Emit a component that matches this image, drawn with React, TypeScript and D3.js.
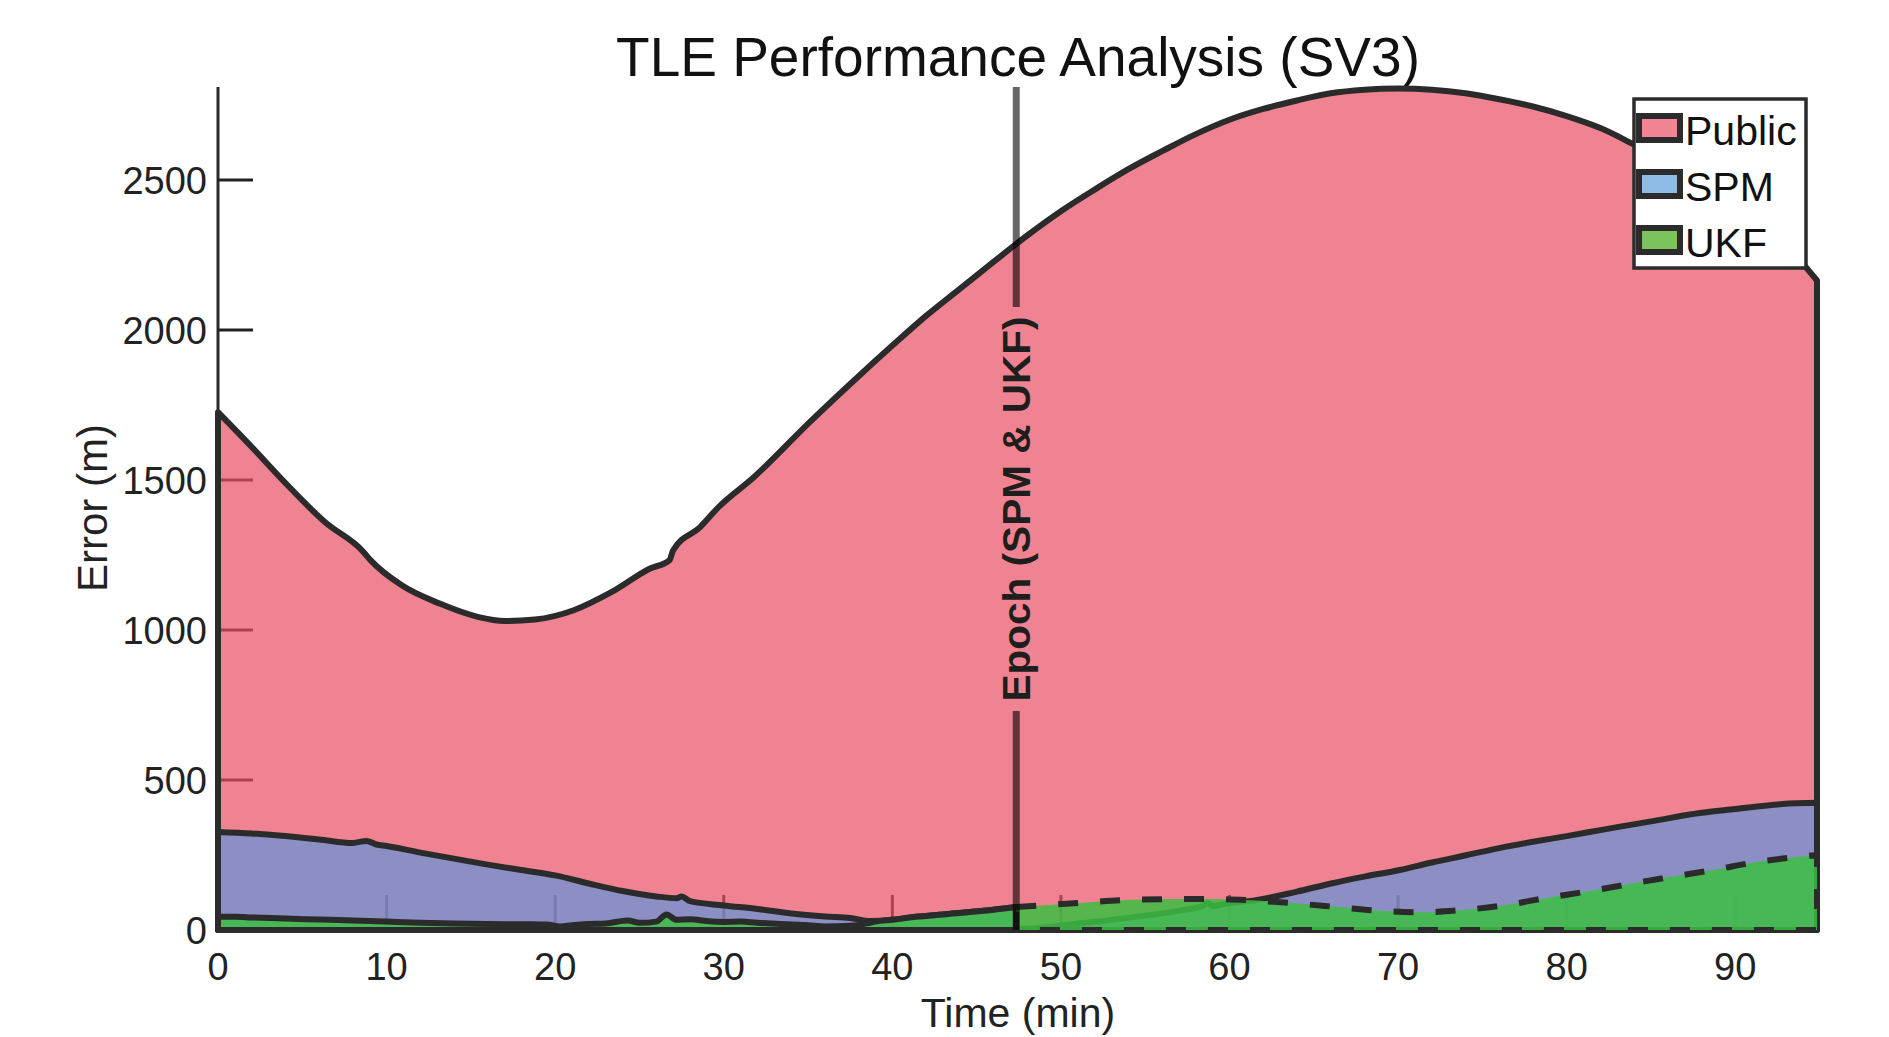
import React from 'react';
import * as d3 from 'd3';

// ---------- data ----------
const X_TICKS = [0, 10, 20, 30, 40, 50, 60, 70, 80, 90];
const Y_TICKS = [0, 500, 1000, 1500, 2000, 2500];
const T_END = 94.85;
const EPOCH_T = 47.35;

const PUBLIC_T = [0, 2, 4, 6.34, 8.6, 9.06, 10.9, 13.15, 15.4, 17, 18.8, 21.1, 23.36, 25.63, 26.77, 27.0, 28.6, 29.7, 31.8, 35.1, 38, 40, 42, 44, 46, 48, 50, 52, 54, 56, 58, 60, 62, 64, 66, 68, 70, 72, 74, 76, 78, 80, 82, 84, 86, 88, 90, 92, 94, 94.85];
const PUBLIC_V = [1726, 1610, 1490, 1360, 1262, 1232, 1149, 1088, 1044, 1030, 1035, 1066, 1127, 1205, 1232, 1266, 1343, 1410, 1510, 1693, 1846, 1948, 2047, 2137, 2227, 2315, 2396, 2468, 2536, 2596, 2653, 2701, 2737, 2765, 2789, 2801, 2805, 2801, 2789, 2769, 2745, 2713, 2673, 2618, 2560, 2492, 2415, 2328, 2222, 2165];

const SPM_PRE_T = [0, 2, 4, 6, 8, 8.8, 9.4, 10, 12, 14, 16, 18, 20, 22, 24, 26, 27.2, 27.5, 28, 30, 32, 34, 36, 37.5, 38.7, 40, 41.4, 43, 45.4, 47.35];
const SPM_PRE_V = [327, 322, 313, 302, 290, 297, 285, 280, 258, 238, 218, 200, 182, 155, 130, 112, 106, 112, 96, 82, 70, 55, 45, 40, 30, 34, 44, 52, 64, 77];

const SPM_POST_T = [47.35, 48.6, 51.3, 54.3, 57.3, 58.4, 58.7, 59, 60, 61.4, 64, 66.1, 68, 70.1, 72, 74.1, 76, 78, 80, 82, 83, 85, 87.9, 90, 92.8, 94.85];
const SPM_POST_V = [2, 6, 23, 43, 67, 80, 90, 80, 90, 98, 128, 156, 178, 200, 225, 250, 273, 294, 313, 333, 343, 362, 390, 403, 420, 424];

const UKF_PRE_T = [0, 1, 2, 4, 6, 8, 10, 12, 14, 16, 18, 19.5, 20.3, 21, 22, 23, 24.3, 25, 26, 26.6, 27.2, 28, 29, 30, 31, 32, 34, 35, 36, 37.5, 38.5, 39, 40, 41.4, 43, 45.4, 47.35];
const UKF_PRE_V = [44, 44, 42, 38, 35, 32, 28, 24, 22, 20, 19, 18, 12, 16, 20, 22, 32, 24, 28, 52, 34, 36, 30, 27, 28, 24, 18, 16, 12, 14, 22, 28, 34, 44, 52, 64, 77];

const UKF_POST_T = [47.35, 48.3, 51.3, 53.9, 56.5, 59, 61.2, 63.8, 66.1, 68.9, 71.4, 73.9, 76.4, 78.8, 81.4, 83.7, 86.3, 88.7, 91.3, 93.8, 94.85];
const UKF_POST_V = [77, 80, 91, 100, 103, 103, 99, 89, 78, 64, 59, 67, 83, 107, 130, 153, 178, 200, 227, 244, 250];

const LEGEND_LABELS = ['Public', 'SPM', 'UKF'];
const LEGEND_COLORS = ['rgb(240,132,146)', 'rgb(143,188,230)', 'rgb(123,195,93)'];

const TITLE = 'TLE Performance Analysis (SV3)';
const X_LABEL = 'Time (min)';
const Y_LABEL = 'Error (m)';
const EPOCH_LABEL = 'Epoch (SPM & UKF)';

// ---------- styles ----------
const EDGE = '#2b2b2b';
const FONT = '"Liberation Sans", Arial, Helvetica, sans-serif';
const PINK = 'rgb(233,79,99)';
const BLUE = 'rgb(97,148,217)';
const GREEN = 'rgb(60,190,66)';

export default function App() {
  const x = d3.scaleLinear().domain([0, T_END]).range([218, 1817]);
  const y = d3.scaleLinear().domain([0, 2810]).range([930, 87]);

  const zip = (ts: number[], vs: number[]) => ts.map((t, i) => [t, vs[i]] as [number, number]);
  const area = d3
    .area<[number, number]>()
    .curve(d3.curveMonotoneX)
    .x((d) => x(d[0]))
    .y0(y(0))
    .y1((d) => y(d[1]));

  const pub = area(zip(PUBLIC_T, PUBLIC_V)) || '';
  const spmPre = area(zip(SPM_PRE_T, SPM_PRE_V)) || '';
  const spmPost = area(zip(SPM_POST_T, SPM_POST_V)) || '';
  const ukfPre = area(zip(UKF_PRE_T, UKF_PRE_V)) || '';
  const ukfPost = area(zip(UKF_POST_T, UKF_POST_V)) || '';

  const ex = x(EPOCH_T);
  const tickLen = 35;
  const legX = 1634;
  const legY = 99;
  const sw = 6;

  return (
    <svg
      width={1889}
      height={1037}
      style={{ position: 'fixed', left: 0, top: 0, background: '#fff' }}
      fontFamily={FONT}
    >
      <rect x={0} y={0} width={1889} height={1037} fill="#fff" />
      {/* title */}
      <text x={1018} y={76} textAnchor="middle" fontSize={55} fill="#111">
        {TITLE}
      </text>

      {/* axis + ticks (drawn under the translucent areas) */}
      <line x1={x(0)} x2={x(0)} y1={y.range()[1]} y2={y(0)} stroke={EDGE} strokeWidth={3} />
      {Y_TICKS.filter((v) => v > 0).map((v) => (
        <line key={'yt' + v} x1={x(0)} x2={x(0) + tickLen} y1={y(v)} y2={y(v)} stroke="#222" strokeWidth={3} />
      ))}
      {X_TICKS.filter((v) => v > 0).map((v) => (
        <line key={'xt' + v} x1={x(v)} x2={x(v)} y1={y(0)} y2={y(0) - tickLen} stroke="#222" strokeWidth={3} />
      ))}

      {/* areas */}
      <path d={pub} fill={PINK} fillOpacity={0.7} stroke={EDGE} strokeWidth={sw} strokeLinejoin="round" />
      <path d={spmPre} fill={BLUE} fillOpacity={0.7} stroke={EDGE} strokeWidth={sw} strokeLinejoin="round" />
      <path d={spmPost} fill={BLUE} fillOpacity={0.7} stroke={EDGE} strokeWidth={sw} strokeLinejoin="round" />
      <path d={ukfPre} fill={GREEN} fillOpacity={0.85} stroke={EDGE} strokeWidth={sw} strokeLinejoin="round" />
      <path d={ukfPost} fill={GREEN} fillOpacity={0.85} stroke="none" />
      <path d={ukfPost} fill="none" stroke={EDGE} strokeWidth={sw} strokeDasharray="20 22" />

      {/* epoch line with label */}
      <line x1={ex} x2={ex} y1={y.range()[1]} y2={307} stroke="#000" strokeOpacity={0.6} strokeWidth={7} />
      <line x1={ex} x2={ex} y1={711} y2={y(0)} stroke="#000" strokeOpacity={0.6} strokeWidth={7} />
      <text
        transform={`translate(${ex},509) rotate(-90)`}
        textAnchor="middle"
        dy="0.36em"
        fontSize={38}
        fontWeight="bold"
        fill="#1e1e1e"
        textLength={385}
        lengthAdjust="spacingAndGlyphs"
      >
        {EPOCH_LABEL}
      </text>

      {/* tick labels */}
      {Y_TICKS.map((v) => (
        <text key={'yl' + v} x={207} y={y(v)} dy="0.36em" textAnchor="end" fontSize={38} fill="#222">
          {v}
        </text>
      ))}
      {X_TICKS.map((v) => (
        <text key={'xl' + v} x={x(v)} y={980} textAnchor="middle" fontSize={38} fill="#222">
          {v}
        </text>
      ))}

      {/* axis labels */}
      <text x={1018} y={1027} textAnchor="middle" fontSize={41} fill="#222">
        {X_LABEL}
      </text>
      <text transform={`translate(107,508) rotate(-90)`} textAnchor="middle" fontSize={42} fill="#222">
        {Y_LABEL}
      </text>

      {/* legend */}
      <rect x={legX} y={legY} width={172} height={169} fill="#fff" stroke={EDGE} strokeWidth={3.5} />
      {LEGEND_LABELS.map((lab, i) => (
        <g key={lab} transform={`translate(0,${i * 56})`}>
          <rect x={1639} y={116} width={41} height={24} fill={LEGEND_COLORS[i]} stroke={EDGE} strokeWidth={6} />
          <text x={1685} y={145} fontSize={41} fill="#111">
            {lab}
          </text>
        </g>
      ))}
    </svg>
  );
}
